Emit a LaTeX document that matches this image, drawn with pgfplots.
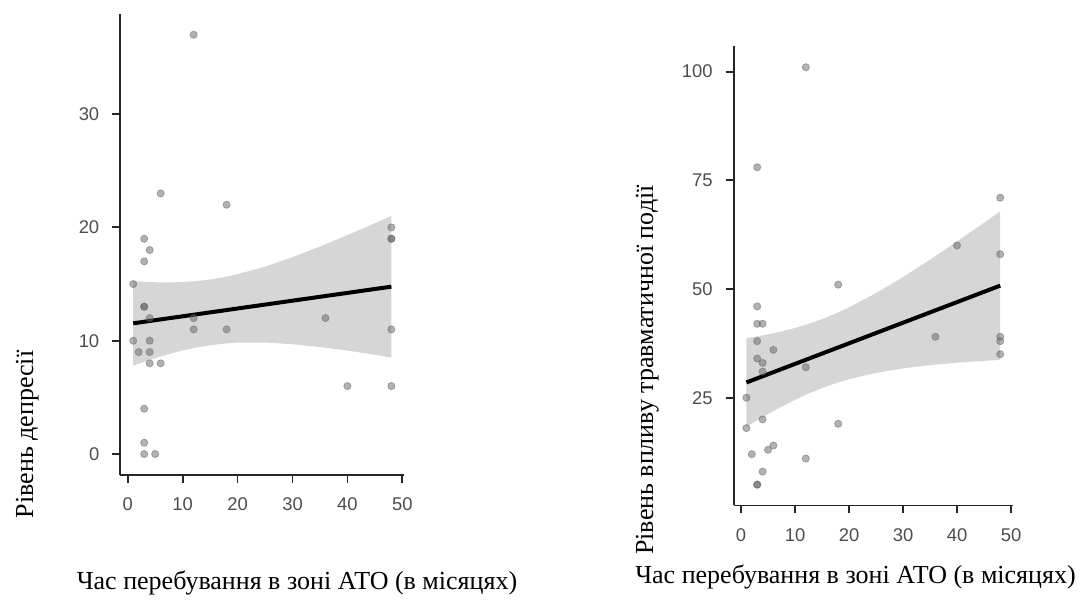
\documentclass[border=0pt]{standalone}
\usepackage{pgfplots}
\pgfplotsset{compat=1.18}
\usepackage{fontspec}
\setmainfont{Liberation Serif}
\newfontfamily\sansf{Liberation Sans}
\definecolor{tickgray}{HTML}{4D4D4D}
\definecolor{ptgray}{HTML}{666666}
\definecolor{ribbon}{HTML}{999999}
\pgfplotsset{
 ggstyle/.style={
  scale only axis,
  axis lines=left,
  axis line style={-, line width=0.9pt, black!85},
  tick align=outside,
  major tick length=4pt,
  tick style={line width=0.9pt, black!85},
  xtick={0,10,20,30,40,50},
  xmin=-1.35, xmax=50.35,
  /pgf/number format/assume math mode=true,
  tick label style={font=\sansf\fontsize{9.2}{11}\selectfont, text=tickgray},
  xticklabel style={yshift=-4pt},
  yticklabel style={xshift=-3pt},
 },
 pts/.style={only marks, mark=*, mark size=1.8pt, color=ptgray, opacity=0.5},
 band/.style={draw=none, fill=ribbon, fill opacity=0.4},
 fit/.style={black, line width=2pt},
}
\begin{document}
\begin{tikzpicture}
\useasboundingbox (0,0) rectangle (543.5pt,305pt);
% ---------- left panel ----------
\begin{axis}[ggstyle, at={(60.15pt,67.5pt)}, anchor=south west,
  width=142pt, height=230.6pt, ymin=-1.85, ymax=38.85, ytick={0,10,20,30}]
\addplot[pts] coordinates {
(12,37)(6,23)(18,22)(3,19)(4,18)(3,17)(48,20)(48,19)(48,19)(1,15)
(3,13)(3,13)(4,12)(12,12)(12,11)(18,11)(36,12)(48,11)(1,10)(4,10)
(2,9)(4,9)(4,8)(6,8)(40,6)(48,6)(3,4)(3,1)(3,0)(5,0)};
\addplot[band] coordinates {
(1,15.27)(3,15.20)(5,15.16)(7.5,15.15)(10,15.17)(12.5,15.26)(15,15.40)(17.5,15.60)(20,15.87)(25,16.54)(30,17.37)(35,18.31)(40,19.32)(44,20.16)(48,21.01)
(48,8.52)(44,8.84)(40,9.13)(35,9.44)(30,9.69)(25,9.84)(20,9.83)(17.5,9.74)(15,9.60)(12.5,9.40)(10,9.14)(7.5,8.82)(5,8.46)(3,8.14)(1,7.80)(1,15.27)};
\addplot[fit] coordinates {(1,11.536)(48,14.771)};
\end{axis}
% ---------- right panel ----------
\begin{axis}[ggstyle, at={(366.85pt,52.25pt)}, anchor=south west,
  width=139.6pt, height=229.55pt, ymin=0.2, ymax=105.8, ytick={25,50,75,100}]
\addplot[pts] coordinates {
(12,101)(3,78)(48,71)(40,60)(48,58)(18,51)(3,46)(3,42)(4,42)(3,38)
(6,36)(3,34)(4,33)(4,31)(12,32)(36,39)(48,39)(48,38)(48,35)(1,25)
(1,18)(4,20)(18,19)(2,12)(5,13)(6,14)(12,11)(4,8)(3,5)(3,5)};
\addplot[band] coordinates {
(1,38.71)(3,39.10)(5,39.56)(7.5,40.23)(10,41.03)(12.5,41.97)(15,43.07)(17.5,44.34)(20,45.77)(25,49.04)(30,52.75)(35,56.74)(40,60.93)(44,64.37)(48,67.86)
(48,33.69)(44,33.39)(40,33.04)(35,32.48)(30,31.74)(25,30.71)(20,29.24)(17.5,28.30)(15,27.20)(12.5,25.93)(10,24.50)(7.5,22.93)(5,21.23)(3,19.79)(1,18.29)(1,38.71)};
\addplot[fit] coordinates {(1,28.497)(48,50.774)};
\end{axis}
% ---------- labels ----------
\node[rotate=90, anchor=base, font=\fontsize{13}{15}\selectfont] at (16.5pt,87.75pt) {Рівень депресії};
\node[rotate=90, anchor=base, font=\fontsize{13}{15}\selectfont] at (326.5pt,120pt) {Рівень впливу травматичної події};
\node[anchor=base, font=\fontsize{13}{15}\selectfont] at (148.5pt,10pt) {Час перебування в зоні АТО (в місяцях)};
\node[anchor=base, font=\fontsize{13}{15}\selectfont] at (427.75pt,13pt) {Час перебування в зоні АТО (в місяцях)};
\end{tikzpicture}
\end{document}
